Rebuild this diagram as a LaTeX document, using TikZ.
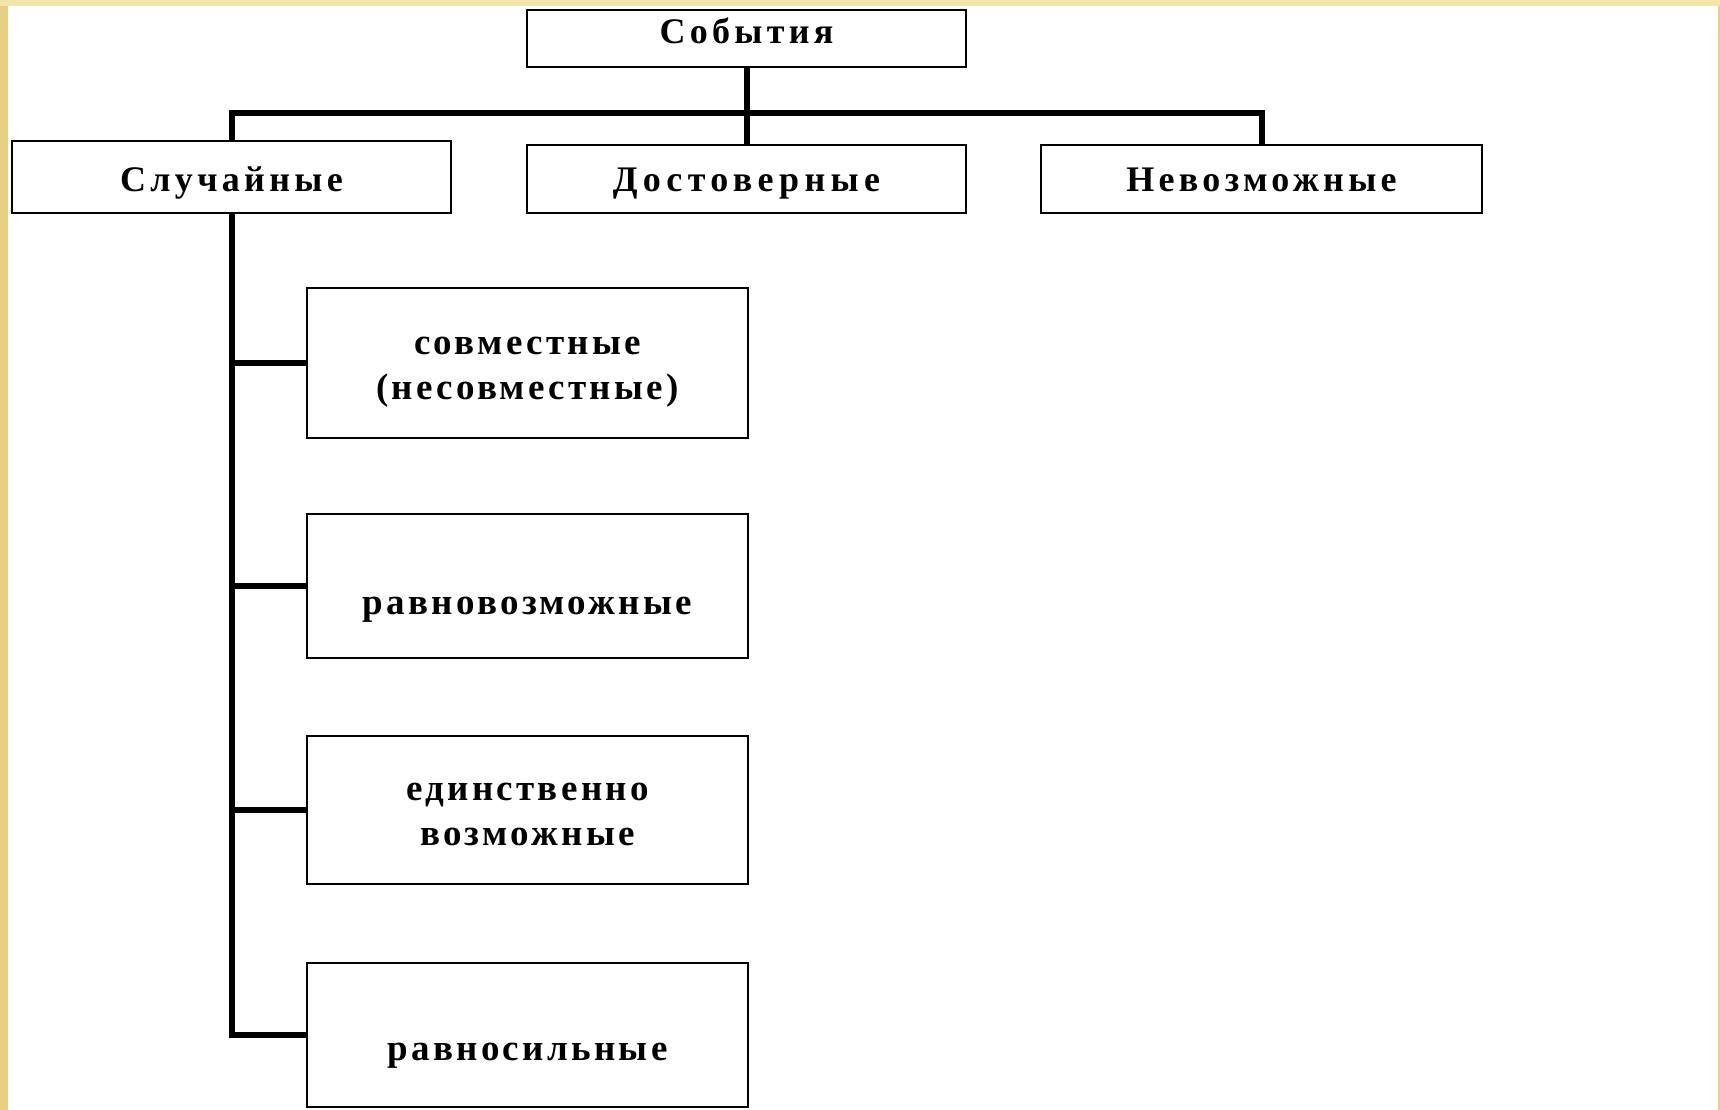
\documentclass[tikz,border=0pt]{standalone}
\usepackage{fontspec}
\setmainfont{Liberation Serif}
\newfontfamily\toplbl[LetterSpace=12]{Liberation Serif}
\newfontfamily\toplblwide[LetterSpace=15]{Liberation Serif}
\newfontfamily\sublbl[LetterSpace=9]{Liberation Serif}
\definecolor{goldL}{RGB}{232,208,130}
\definecolor{goldT}{RGB}{245,228,170}
\newcommand{\shifttxt}[2]{\raisebox{-#1pt}[0pt][0pt]{#2}}
\newcommand{\twolines}[2]{\begin{tabular}[t]{@{}c@{}}#1\\#2\end{tabular}}
\tikzset{
  evbox/.style={draw=black, line width=2pt, fill=white, rectangle, inner sep=0pt},
  toptext/.style={font=\toplbl\bfseries\fontsize{36}{44}\selectfont},
  toptextwide/.style={font=\toplblwide\bfseries\fontsize{36}{44}\selectfont},
  subtext/.style={font=\sublbl\bfseries\fontsize{37}{45}\selectfont},
  link/.style={draw=black, line width=6pt}
}
\begin{document}
\begin{tikzpicture}[x=1pt,y=-1pt]
  \useasboundingbox (0,0) rectangle (1720,1110);
  \fill[white] (0,0) rectangle (1720,1110);
  \fill[goldL] (0,0) rectangle (8,1110);
  \fill[goldL] (1718,0) rectangle (1720,1110);
  \fill[goldT] (0,0) rectangle (1720,6);

  % top level
  \node[evbox, toptext, minimum width=439pt, minimum height=57pt] (ev) at (746.5,38.5) {\shifttxt{5}{События}};
  \node[evbox, toptext, minimum width=439pt, minimum height=72pt] (sl) at (231.5,177) {\shifttxt{15}{Случайные}};
  \node[evbox, toptextwide, minimum width=439pt, minimum height=68pt] (dost) at (746.5,179) {\shifttxt{13}{Достоверные}};
  \node[evbox, toptext, minimum width=441pt, minimum height=68pt] (nev) at (1261.5,179) {\shifttxt{13}{Невозможные}};

  % sub-boxes
  \node[evbox, subtext, minimum width=441pt, minimum height=150pt] (b1) at (527.5,363) {\shifttxt{-9}{\twolines{совместные}{(несовместные)}}};
  \node[evbox, subtext, minimum width=441pt, minimum height=144pt] (b2) at (527.5,586) {\shifttxt{28}{равновозможные}};
  \node[evbox, subtext, minimum width=441pt, minimum height=148pt] (b3) at (527.5,810) {\shifttxt{-10}{\twolines{единственно}{возможные}}};
  \node[evbox, subtext, minimum width=441pt, minimum height=144pt] (b4) at (527.5,1035) {\shifttxt{25}{равносильные}};

  % connectors
  \coordinate (bar) at (746.5,113);
  \draw[link] (ev.south) -- (dost.north);
  \draw[link] (sl.north) -- (sl.north |- bar) -- (nev.north |- bar) -- (nev.north);
  \draw[link] (sl.south) -- (sl.south |- b4.west) -- (b4.west);
  \draw[link] (sl.south |- b1.west) -- (b1.west);
  \draw[link] (sl.south |- b2.west) -- (b2.west);
  \draw[link] (sl.south |- b3.west) -- (b3.west);
\end{tikzpicture}
\end{document}
